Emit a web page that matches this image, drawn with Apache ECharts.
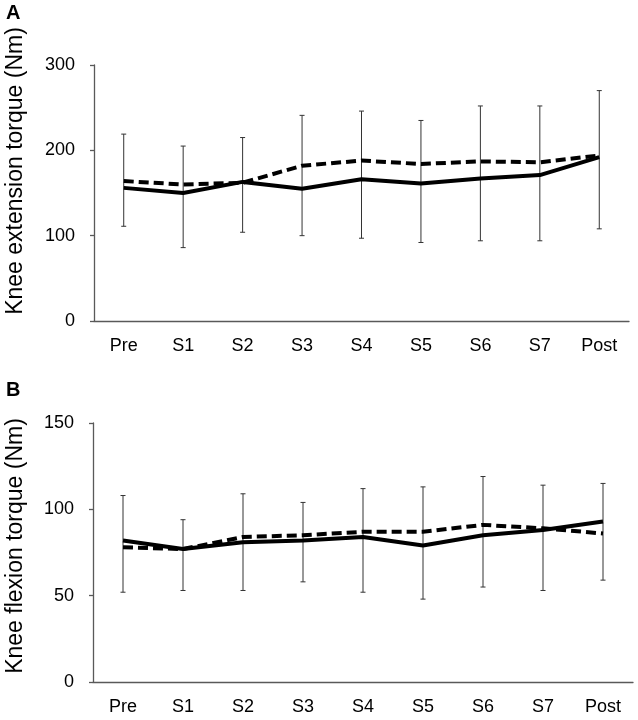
<!DOCTYPE html>
<html>
<head>
<meta charset="utf-8">
<script src="https://cdn.jsdelivr.net/npm/echarts@6/dist/echarts.min.js"></script>
<style>
html,body{margin:0;padding:0;background:#fff;}
#chart{width:638px;height:720px;}
</style>
</head>
<body>
<div id="chart"></div>
<script>
const categories = ['Pre', 'S1', 'S2', 'S3', 'S4', 'S5', 'S6', 'S7', 'Post'];

const extSolid = [156, 150, 163, 155, 166, 161, 167, 171, 192];
const extDashed = [164, 160, 162, 182, 188, 184, 187, 186, 194];
const extErrHigh = [219, 205, 215, 241, 246, 235, 252, 252, 270];
const extErrLow = [111, 86, 104, 100, 97, 92, 94, 94, 108];

const flexSolid = [82, 77, 81, 82, 84, 79, 85, 88, 93];
const flexDashed = [78, 77, 84, 85, 87, 87, 91, 89, 86];
const flexErrHigh = [108, 94, 109, 104, 112, 113, 119, 114, 115];
const flexErrLow = [52, 53, 53, 58, 52, 48, 55, 53, 59];

const extTicks = {min: 0, max: 300, interval: 100};
const flexTicks = {min: 0, max: 150, interval: 50};

const FONT = '"Liberation Sans", Arial, sans-serif';
const AXIS_COLOR = '#595959';

function errData(lo, hi) {
  return categories.map((c, i) => [i, lo[i], hi[i]]);
}

function renderErr(params, api) {
  const x = api.value(0);
  const p1 = api.coord([x, api.value(2)]);
  const p2 = api.coord([x, api.value(1)]);
  const cw = 2.5;
  const st = {stroke: '#333', lineWidth: 1};
  return {
    type: 'group',
    children: [
      {type: 'line', shape: {x1: p1[0], y1: p1[1], x2: p2[0], y2: p2[1]}, style: st},
      {type: 'line', shape: {x1: p1[0] - cw, y1: p1[1], x2: p1[0] + cw, y2: p1[1]}, style: st},
      {type: 'line', shape: {x1: p2[0] - cw, y1: p2[1], x2: p2[0] + cw, y2: p2[1]}, style: st}
    ]
  };
}

function xAxisCfg(gi) {
  return {
    type: 'category', gridIndex: gi, data: categories, boundaryGap: true,
    axisLine: {show: true, lineStyle: {color: AXIS_COLOR, width: 1.3}},
    axisTick: {show: false},
    axisLabel: {color: '#000', fontSize: 18, fontFamily: FONT, margin: 16}
  };
}
function yAxisCfg(gi, t) {
  return {
    type: 'value', gridIndex: gi, min: t.min, max: t.max, interval: t.interval,
    splitLine: {show: false},
    axisLine: {show: true, lineStyle: {color: AXIS_COLOR, width: 1.3}},
    axisTick: {show: true, inside: false, length: 4, lineStyle: {color: AXIS_COLOR, width: 1.3}},
    axisLabel: {color: '#000', fontSize: 18, fontFamily: FONT, margin: 19}
  };
}
function lineSeries(gi, data, dashed) {
  return {
    type: 'line', xAxisIndex: gi, yAxisIndex: gi, data: data, symbol: 'none', z: 3,
    lineStyle: {color: '#000', width: 4, type: dashed ? [10, 5] : 'solid'}
  };
}
function errSeries(gi, lo, hi) {
  return {
    type: 'custom', xAxisIndex: gi, yAxisIndex: gi, data: errData(lo, hi),
    encode: {x: 0, y: [1, 2]}, renderItem: renderErr, z: 2
  };
}

const chart = echarts.init(document.getElementById('chart'), null, {renderer: 'canvas'});
chart.setOption({
  animation: false,
  backgroundColor: '#fff',
  grid: [
    {left: 94, top: 65, width: 535, height: 256},
    {left: 93, top: 423, width: 540, height: 259}
  ],
  xAxis: [xAxisCfg(0), xAxisCfg(1)],
  yAxis: [yAxisCfg(0, extTicks), yAxisCfg(1, flexTicks)],
  series: [
    errSeries(0, extErrLow, extErrHigh),
    lineSeries(0, extSolid, false),
    lineSeries(0, extDashed, true),
    errSeries(1, flexErrLow, flexErrHigh),
    lineSeries(1, flexSolid, false),
    lineSeries(1, flexDashed, true)
  ],
  graphic: [
    {type: 'text', left: 6, top: 3, style: {text: 'A', font: 'bold 20px ' + FONT, fill: '#000'}},
    {type: 'text', left: 6, top: 380, style: {text: 'B', font: 'bold 20px ' + FONT, fill: '#000'}},
    {type: 'text', x: 16, y: 171, rotation: Math.PI / 2,
     style: {text: 'Knee extension torque (Nm)', font: '23px ' + FONT, fill: '#000', align: 'center', verticalAlign: 'middle'}},
    {type: 'text', x: 16, y: 546, rotation: Math.PI / 2,
     style: {text: 'Knee flexion torque (Nm)', font: '23px ' + FONT, fill: '#000', align: 'center', verticalAlign: 'middle'}}
  ]
});
</script>
</body>
</html>
